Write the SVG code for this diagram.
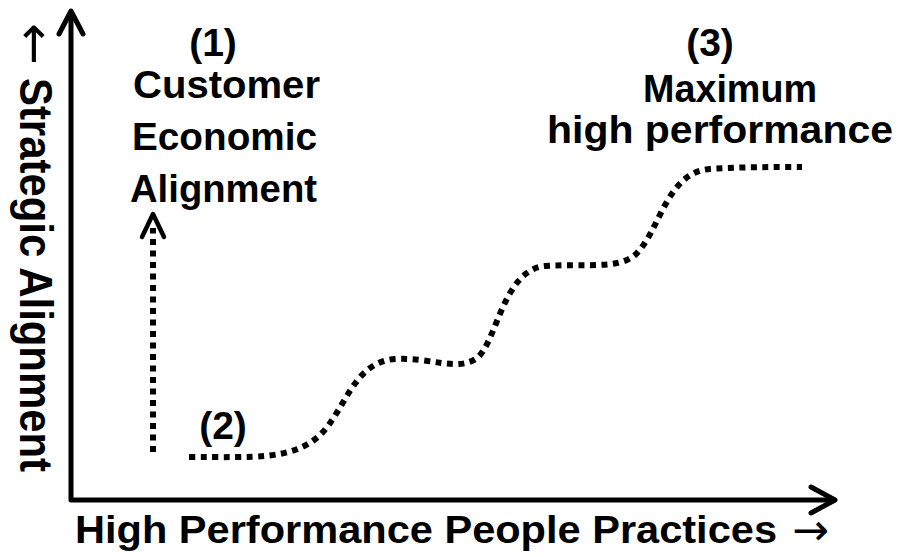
<svg xmlns="http://www.w3.org/2000/svg" width="904" height="557" viewBox="0 0 904 557">
<style>
.lbl{font-family:"Liberation Sans",Arial,sans-serif;font-weight:bold;fill:#000}
.arr{font-family:"DejaVu Sans",sans-serif;font-weight:normal}
.axis{fill:none;stroke:#000;stroke-width:5;stroke-linecap:round;stroke-linejoin:round}
.dot{fill:none;stroke:#000;stroke-width:6;stroke-dasharray:6 5.5}
.head{fill:none;stroke:#000;stroke-width:4.5;stroke-linecap:round;stroke-linejoin:round}
</style>
<rect width="904" height="557" fill="#fff"/>
<g id="connectors">
<polyline class="axis" points="71,12 71,500 834,500"/>
<polyline class="axis" points="59,34 71,11 83,34"/>
<polyline class="axis" points="811,487 835,500 811,513"/>
<line class="dot" x1="153" y1="452" x2="153" y2="228"/>
<polyline class="head" points="142,237 153,214 164,237"/>
<path class="dot" d="M189,457 C255,457 290,460 318,437 C345,413 352,362 395,359 C430,357 458,372 477,358 C497,342 503,270 545,266 C585,263 617,270 635,255 C660,232 666,172 710,169 C740,167 770,167 802,167"/>
</g>
<g id="y-axis-label">
<text class="lbl" font-size="46" transform="translate(20,23) rotate(90)"><tspan class="arr" font-size="50" y="2">←</tspan><tspan x="55" y="0" textLength="394" lengthAdjust="spacingAndGlyphs">Strategic Alignment</tspan></text>
</g>
<g id="x-axis-label">
<text class="lbl" font-size="39" x="75" y="543"><tspan textLength="702" lengthAdjust="spacingAndGlyphs">High Performance People Practices</tspan><tspan class="arr" x="792" y="545" font-size="44">→</tspan></text>
</g>
<g id="node1">
<text class="lbl" font-size="39" x="213" y="56" text-anchor="middle">(1)</text>
<text class="lbl" font-size="39" x="133" y="98" textLength="187" lengthAdjust="spacingAndGlyphs">Customer</text>
<text class="lbl" font-size="39" x="132" y="150" textLength="185" lengthAdjust="spacingAndGlyphs">Economic</text>
<text class="lbl" font-size="39" x="130" y="202" textLength="187" lengthAdjust="spacingAndGlyphs">Alignment</text>
</g>
<g id="node2">
<text class="lbl" font-size="39" x="223" y="439" text-anchor="middle">(2)</text>
</g>
<g id="node3">
<text class="lbl" font-size="39" x="710" y="56" text-anchor="middle">(3)</text>
<text class="lbl" font-size="39" x="643" y="102" textLength="174" lengthAdjust="spacingAndGlyphs">Maximum</text>
<text class="lbl" font-size="39" x="547" y="143" textLength="346" lengthAdjust="spacingAndGlyphs">high performance</text>
</g>
</svg>
